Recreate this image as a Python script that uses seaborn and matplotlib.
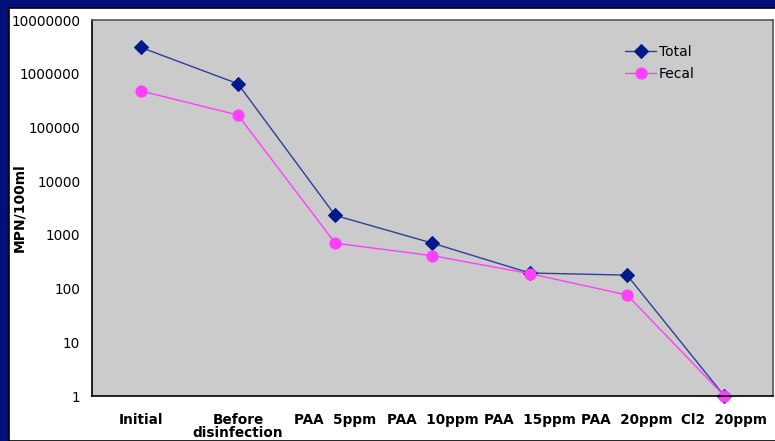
import pandas as pd
import matplotlib.pyplot as plt
import matplotlib.ticker as mticker
import seaborn as sns

# data
stages = ["Initial", "Before\ndisinfection", "PAA  5ppm", "PAA  10ppm",
          "PAA  15ppm", "PAA  20ppm", "Cl2  20ppm"]
total = [3100000, 650000, 2300, 700, 195, 178, 1]
fecal = [480000, 170000, 700, 410, 190, 76, 1]

df = pd.DataFrame({"pos": range(len(stages)), "Total": total, "Fecal": fecal})

sns.set_style("white")
plt.rcParams['font.family'] = ['DejaVu Sans']
plt.rcParams['text.color'] = 'black'

fig = plt.figure(figsize=(7.75, 4.41), dpi=100)
fig.patch.set_facecolor("#00107a")
# white panel behind the chart
panel = plt.Rectangle((9 / 775, 0), 1, 1 - 8 / 441, transform=fig.transFigure,
                      facecolor="white", edgecolor="black", linewidth=1.2, zorder=-10)
fig.add_artist(panel)

ax = fig.add_axes([92 / 775, 1 - 396 / 441, 681 / 775, 376 / 441])
ax.set_zorder(1)
ax.set_facecolor("#cbcbcb")

sns.lineplot(data=df, x="pos", y="Total", ax=ax, color="#2f3f9a", linewidth=1,
             marker="D", markersize=7, markerfacecolor="#001a8c", markeredgecolor="#001a8c",
             label="Total", clip_on=False)
sns.lineplot(data=df, x="pos", y="Fecal", ax=ax, color="#ff40ff", linewidth=1,
             marker="o", markersize=8, markerfacecolor="#ff40ff", markeredgecolor="#ff40ff",
             label="Fecal", clip_on=False)

ax.set_yscale("log")
ax.set_ylim(1, 1e7)
ax.set_xlim(-0.5, len(stages) - 0.5)
ax.yaxis.set_major_locator(mticker.LogLocator(base=10, numticks=10))
ax.yaxis.set_minor_locator(mticker.NullLocator())
ax.yaxis.set_major_formatter(mticker.FuncFormatter(lambda v, p: f"{int(round(v))}"))

# boundary ticks as major, labels on minor ticks at the category centres
ax.set_xticks([i + 0.5 for i in range(-1, len(stages))])
ax.set_xticklabels([])
ax.set_xticks(range(len(stages)), minor=True)
ax.set_xticklabels(stages, minor=True, fontsize=9.8, fontweight="bold")
ax.tick_params(axis="x", which="minor", length=0, pad=12, labelcolor="black")
ax.tick_params(axis="x", which="major", direction="out", length=6, width=1, color="black")
ax.tick_params(axis="y", direction="inout", length=12, width=1, color="black",
               labelsize=9.8, pad=2.5, labelcolor="black")
for lbl in ax.get_xticklabels(minor=True):
    lbl.set_linespacing(0.95)
    lbl.set_verticalalignment("top")

ax.set_xlabel("")
ax.set_ylabel("MPN/100ml", fontsize=10, fontweight="bold", color="black")
ax.yaxis.set_label_coords((26 - 92) / 681, 0.5)

for side in ["left", "bottom"]:
    ax.spines[side].set_color("black")
    ax.spines[side].set_linewidth(1.2)
for side in ["top", "right"]:
    ax.spines[side].set_color("#555555")
    ax.spines[side].set_linewidth(1.2)

ax.legend(loc="upper left", bbox_to_anchor=(0.765, 0.967), frameon=False, fontsize=10,
          handlelength=2.2, handletextpad=0.2, labelspacing=0.55, labelcolor="black")

fig.savefig("out.png", dpi=100, facecolor=fig.get_facecolor())
